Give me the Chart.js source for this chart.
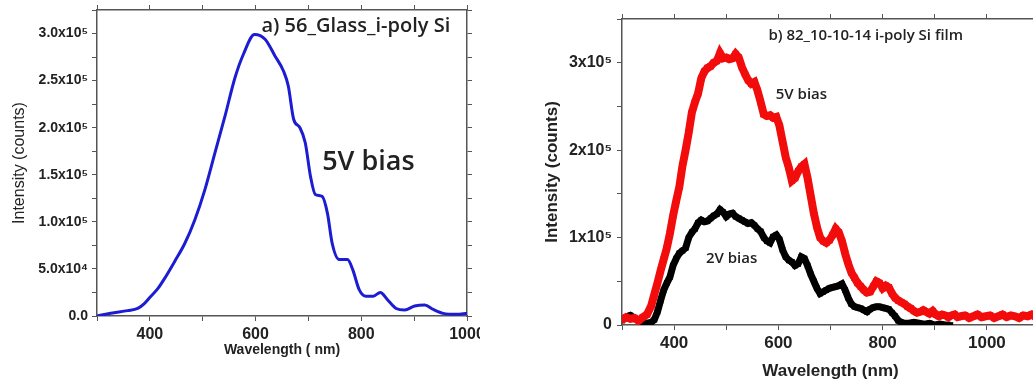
<!DOCTYPE html>
<html>
<head>
<meta charset="utf-8">
<script src="https://cdn.jsdelivr.net/npm/chart.js@4.4.1/dist/chart.umd.min.js"></script>
<style>
html, body { margin:0; padding:0; background:#fff; width:1033px; height:385px; overflow:hidden; }
#wrapA { position:absolute; left:0; top:0; width:480px; height:385px; }
#wrapB { position:absolute; left:520px; top:0; width:525px; height:385px; }
</style>
</head>
<body>
<div id="wrapA"><canvas id="js--chartA" width="480" height="385"></canvas></div>
<div id="wrapB"><canvas id="js--chartB" width="525" height="385"></canvas></div>
<script>
// panel a) blue PL curve
const blueWl  = [300, 326, 358, 377, 390, 402, 415, 428, 447, 466, 485, 504, 523, 542, 561, 577, 598, 618, 637, 653, 662, 672, 684, 694, 704, 713, 726, 736, 745, 758, 774, 784, 796, 809, 822, 836, 850, 866, 882, 901, 920, 936, 955, 980, 1000];
const blueInt = [0, 3000, 5700, 8000, 13500, 21000, 29000, 40000, 58000, 77000, 102000, 134000, 173000, 212000, 253000, 278000, 299000, 294000, 276000, 260000, 244000, 209000, 200000, 184000, 148000, 129000, 127000, 109000, 77000, 60000, 60000, 49000, 28000, 21000, 21000, 25000, 17000, 8000, 6400, 10600, 11700, 7000, 2800, 1800, 2800];

// panel b) 5V bias (red) and 2V bias (black)
const redWl  = [300, 308, 316, 324, 332, 340, 348, 356, 362, 368, 374, 380, 386, 392, 398, 404, 410, 416, 422, 428, 434, 440, 446, 452, 458, 464, 470, 476, 482, 488, 494, 500, 506, 512, 518, 524, 530, 536, 542, 548, 554, 560, 566, 572, 578, 584, 590, 596, 602, 608, 614, 620, 626, 632, 638, 644, 650, 656, 662, 668, 674, 680, 686, 692, 698, 704, 710, 716, 722, 728, 734, 740, 746, 752, 758, 764, 770, 776, 782, 788, 794, 800, 806, 812, 818, 824, 830, 836, 842, 848, 854, 860, 866, 872, 878, 884, 890, 896, 902, 908, 914, 920, 926, 932, 938, 944, 950, 958, 966, 974, 982, 990, 998, 1006, 1014, 1022, 1030, 1038, 1046, 1054, 1062, 1070, 1078, 1086, 1094, 1100];
const redInt = [6000, 9000, 7000, 8000, 5000, 9000, 12000, 22000, 35000, 48000, 62000, 75000, 88000, 105000, 125000, 142000, 158000, 182000, 200000, 220000, 243000, 255000, 265000, 282000, 290000, 294000, 296000, 300000, 302000, 311000, 305000, 306000, 304000, 305000, 310000, 306000, 295000, 287000, 280000, 276000, 278000, 268000, 255000, 241000, 239000, 240000, 237000, 238000, 228000, 210000, 192000, 180000, 165000, 168000, 176000, 181000, 184000, 168000, 148000, 128000, 112000, 100000, 96000, 94000, 97000, 103000, 110000, 106000, 96000, 82000, 70000, 60000, 54000, 48000, 44000, 40000, 37000, 38000, 44000, 50000, 48000, 42000, 45000, 43000, 36000, 31000, 28000, 26000, 24000, 21000, 19000, 16000, 14000, 15000, 17000, 15000, 13000, 16000, 12000, 10000, 12000, 11000, 9000, 11000, 12000, 9000, 10000, 11000, 8000, 10000, 12000, 9000, 10000, 11000, 8000, 10000, 12000, 9000, 11000, 10000, 8000, 11000, 10000, 12000, 9000, 10000];
const blackWl  = [300, 308, 316, 324, 332, 340, 348, 356, 362, 368, 374, 380, 386, 392, 398, 404, 410, 416, 422, 428, 434, 440, 446, 452, 458, 464, 470, 476, 482, 488, 494, 500, 506, 512, 518, 524, 530, 536, 542, 548, 554, 560, 566, 572, 578, 584, 590, 596, 602, 608, 614, 620, 626, 632, 638, 644, 650, 656, 662, 668, 674, 680, 686, 692, 698, 704, 710, 716, 722, 728, 734, 740, 746, 752, 758, 764, 770, 776, 782, 788, 794, 800, 806, 812, 818, 824, 830, 836, 842, 850, 860, 870, 880, 890, 900, 910, 920, 930];
const blackInt = [5000, 9000, 11000, 8000, 5000, 3000, 2000, 3000, 6000, 15000, 28000, 40000, 48000, 55000, 68000, 76000, 82000, 85000, 88000, 100000, 106000, 110000, 117000, 120000, 118000, 119000, 122000, 125000, 127000, 132000, 129000, 124000, 127000, 128000, 124000, 122000, 120000, 118000, 116000, 117000, 114000, 110000, 107000, 100000, 96000, 94000, 101000, 103000, 98000, 86000, 78000, 74000, 72000, 68000, 70000, 78000, 76000, 68000, 58000, 50000, 42000, 36000, 38000, 40000, 42000, 43000, 44000, 45000, 47000, 40000, 31000, 24000, 21000, 20000, 19000, 17000, 15000, 18000, 20000, 21000, 21000, 20000, 19000, 18000, 14000, 10000, 5000, 3000, 2000, 2000, 3000, 2000, 1000, 2000, 0, 1000, 0, 0];

// tick labels
const xTicks = [400, 600, 800, 1000];
const xTickLabels = ['400', '600', '800', '1000'];
const yTicksA = [0, 50000, 100000, 150000, 200000, 250000, 300000];
const yTickLabelsA = ['0.0', '5.0x10⁴', '1.0x10⁵', '1.5x10⁵', '2.0x10⁵', '2.5x10⁵', '3.0x10⁵'];
const yTicksB = [0, 100000, 200000, 300000];
const yTickLabelsB = ['0', '1x10⁵', '2x10⁵', '3x10⁵'];

// text inside the plots (data coordinates)
const notesA = [
  {text: 'a) 56_Glass_i-poly Si', x: 611, y: 302000, size: 20},
  {text: '5V bias', x: 726, y: 155000, size: 27}
];
const notesB = [
  {text: 'b) 82_10-10-14 i-poly Si film', x: 581, y: 326000, size: 15},
  {text: '5V bias', x: 595, y: 258000, size: 15},
  {text: '2V bias', x: 461, y: 71000, size: 15}
];

Chart.defaults.font.family = "'Liberation Sans', Arial, sans-serif";
Chart.defaults.color = '#222';

function pts(xs, ys) {
  return xs.map((x, i) => ({x: x, y: ys[i]}));
}

function fix(w, h) {
  return function (s) {
    if (w != null) s.width = w;
    if (h != null) s.height = h;
    s.paddingLeft = 0; s.paddingRight = 0; s.paddingTop = 0; s.paddingBottom = 0;
  };
}

function pick(ticks, labels) {
  return function (v) {
    const i = ticks.indexOf(v);
    return i < 0 ? '' : labels[i];
  };
}

const gridOpts = {display: true, drawOnChartArea: false, drawTicks: true, tickLength: 5, color: '#555', lineWidth: 1};
const borderOpts = {display: true, color: '#555', width: 1.5};

const notesPlugin = {
  id: 'notes',
  afterDatasetsDraw(chart, args, opts) {
    const c = chart.ctx;
    const xs = chart.scales.x, ys = chart.scales.y;
    c.save();
    c.fillStyle = '#222';
    c.textBaseline = 'alphabetic';
    (opts.items || []).forEach(function (n) {
      c.font = '600 ' + n.size + "px 'Open Sans', sans-serif";
      c.fillText(n.text, xs.getPixelForValue(n.x), ys.getPixelForValue(n.y));
    });
    c.restore();
  }
};

function axes(cfg) {
  return {
    x: {
      type: 'linear', min: 300, max: cfg.xMax,
      ticks: {stepSize: 100, autoSkip: false, maxRotation: 0, padding: cfg.xPad,
              font: {size: cfg.xFont, weight: 'bold'}, callback: pick(xTicks, xTickLabels)},
      grid: gridOpts, border: borderOpts,
      title: {display: true, text: cfg.xTitle, font: {size: cfg.xTitleFont, weight: 'bold'}, padding: {top: 0, bottom: 0}},
      afterFit: fix(null, cfg.xH)
    },
    x2: {
      type: 'linear', position: 'top', min: 300, max: cfg.xMax,
      ticks: {display: false, stepSize: 100},
      grid: gridOpts, border: borderOpts,
      afterFit: fix(null, 5)
    },
    y: {
      min: 0, max: cfg.yMax,
      ticks: {stepSize: cfg.yStep, autoSkip: false, padding: cfg.yPad,
              font: {size: cfg.yFont, weight: 'bold'}, callback: pick(cfg.yTicks, cfg.yLabels)},
      grid: gridOpts, border: borderOpts,
      title: {display: true, text: 'Intensity (counts)', font: {size: cfg.yTitleFont, weight: cfg.yTitleWeight},
              padding: {top: cfg.yTitlePad, bottom: 0}},
      afterFit: fix(cfg.yW, null)
    },
    y2: {
      position: 'right', min: 0, max: cfg.yMax,
      ticks: {display: false, stepSize: cfg.yStep},
      grid: gridOpts, border: borderOpts,
      afterFit: fix(5, null)
    }
  };
}

new Chart(document.getElementById('js--chartA'), {
  type: 'line',
  data: {
    datasets: [{
      label: '5V bias',
      data: pts(blueWl, blueInt),
      borderColor: '#1c1cd2',
      borderWidth: 3,
      pointRadius: 0,
      cubicInterpolationMode: 'monotone'
    }]
  },
  options: {
    responsive: false,
    animation: false,
    layout: {padding: {left: 0, right: 8, top: 5, bottom: 26}},
    plugins: {legend: {display: false}, tooltip: {enabled: false}, notes: {items: notesA}},
    scales: axes({xMax: 1000, xPad: 4, xFont: 16, xTitle: 'Wavelength ( nm)', xTitleFont: 14, xH: 43,
                  yMax: 325000, yStep: 25000, yPad: 4, yFont: 14, yTicks: yTicksA, yLabels: yTickLabelsA,
                  yTitleFont: 16, yTitleWeight: 'normal', yTitlePad: 10, yW: 97})
  },
  plugins: [notesPlugin]
});

new Chart(document.getElementById('js--chartB'), {
  type: 'line',
  data: {
    datasets: [{
      label: '5V bias',
      data: pts(redWl, redInt),
      borderColor: '#f20c0c',
      backgroundColor: '#f20c0c',
      borderWidth: 8,
      pointRadius: 4.5,
      pointStyle: 'rect',
      pointBorderWidth: 0,
      tension: 0
    }, {
      label: '2V bias',
      data: pts(blackWl, blackInt),
      borderColor: '#000',
      backgroundColor: '#000',
      borderWidth: 7,
      pointRadius: 4,
      pointStyle: 'rect',
      pointBorderWidth: 0,
      tension: 0
    }]
  },
  options: {
    responsive: false,
    animation: false,
    layout: {padding: {left: 0, right: 1, top: 14, bottom: 3}},
    plugins: {legend: {display: false}, tooltip: {enabled: false}, notes: {items: notesB}},
    scales: axes({xMax: 1100, xPad: 3, xFont: 17, xTitle: 'Wavelength (nm)', xTitleFont: 17, xH: 57,
                  yMax: 350000, yStep: 50000, yPad: 5, yFont: 16, yTicks: yTicksB, yLabels: yTickLabelsB,
                  yTitleFont: 17, yTitleWeight: 'bold', yTitlePad: 22, yW: 102})
  },
  plugins: [notesPlugin]
});
</script>
</body>
</html>
